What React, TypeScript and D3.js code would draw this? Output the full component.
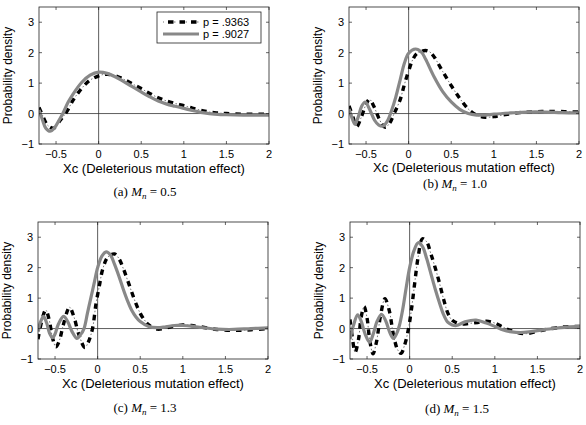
import React, { useEffect, useRef } from "react";
import * as d3 from "d3";

// curves, [x, density]
const aBlack = [
  [-0.7, 0.2], [-0.66, -0.05], [-0.6, -0.38], [-0.53, -0.48], [-0.45, -0.22], [-0.37, 0.08],
  [-0.3, 0.44], [-0.24, 0.68], [-0.17, 0.92], [-0.1, 1.1], [0.0, 1.24], [0.05, 1.28], [0.1, 1.29],
  [0.2, 1.24], [0.3, 1.12], [0.4, 0.97], [0.5, 0.82], [0.6, 0.66], [0.7, 0.52], [0.8, 0.41],
  [0.9, 0.33], [1.0, 0.26], [1.1, 0.18], [1.2, 0.11], [1.3, 0.05], [1.4, 0.02], [1.5, 0.0],
  [1.7, -0.02], [2.0, -0.02],
];
const aGray = [
  [-0.7, 0.12], [-0.66, -0.2], [-0.62, -0.48], [-0.57, -0.58], [-0.52, -0.48], [-0.47, -0.25],
  [-0.42, 0.0], [-0.36, 0.36], [-0.3, 0.64], [-0.2, 1.02], [-0.1, 1.26], [0.0, 1.36], [0.1, 1.32],
  [0.2, 1.2], [0.3, 1.04], [0.4, 0.88], [0.5, 0.71], [0.6, 0.55], [0.7, 0.41], [0.8, 0.31],
  [0.9, 0.24], [1.0, 0.17], [1.1, 0.1], [1.2, 0.04], [1.3, 0.0], [1.4, -0.03], [1.5, -0.04],
  [1.7, -0.05], [2.0, -0.05],
];
const bBlack = [
  [-0.7, 0.25], [-0.66, -0.05], [-0.61, -0.43], [-0.56, -0.15], [-0.5, 0.3], [-0.46, 0.47],
  [-0.41, 0.25], [-0.35, -0.15], [-0.3, -0.4], [-0.27, -0.45], [-0.22, -0.3], [-0.17, 0.0],
  [-0.1, 0.45], [-0.05, 0.95], [0.0, 1.4], [0.05, 1.78], [0.1, 1.98], [0.2, 2.07], [0.25, 2.02],
  [0.3, 1.86], [0.4, 1.38], [0.5, 0.92], [0.6, 0.5], [0.7, 0.15], [0.8, -0.05], [0.9, -0.12],
  [1.0, -0.1], [1.1, -0.05], [1.3, 0.03], [1.5, 0.06], [1.7, 0.07], [2.0, 0.05],
];
const bGray = [
  [-0.7, 0.15], [-0.67, -0.1], [-0.63, -0.35], [-0.59, -0.1], [-0.55, 0.25], [-0.51, 0.38],
  [-0.46, 0.15], [-0.4, -0.22], [-0.35, -0.38], [-0.3, -0.41], [-0.25, -0.25], [-0.2, 0.1],
  [-0.15, 0.55], [-0.1, 1.1], [-0.05, 1.65], [0.0, 1.98], [0.08, 2.12], [0.15, 2.02], [0.2, 1.78],
  [0.3, 1.2], [0.4, 0.72], [0.5, 0.38], [0.6, 0.14], [0.7, 0.0], [0.8, -0.05], [0.9, -0.05],
  [1.0, -0.02], [1.2, 0.02], [1.4, 0.05], [1.6, 0.05], [1.8, 0.03], [2.0, 0.02],
];
const cBlack = [
  [-0.7, -0.35], [-0.66, 0.2], [-0.61, 0.61], [-0.57, 0.3], [-0.53, -0.3], [-0.49, -0.6],
  [-0.45, -0.4], [-0.4, 0.15], [-0.33, 0.7], [-0.28, 0.4], [-0.22, -0.2], [-0.15, -0.62],
  [-0.11, -0.45], [-0.06, 0.0], [-0.02, 0.8], [0.02, 1.4], [0.06, 1.95], [0.12, 2.35], [0.2, 2.45],
  [0.25, 2.3], [0.3, 1.98], [0.35, 1.6], [0.4, 1.2], [0.45, 0.82], [0.5, 0.5], [0.55, 0.28],
  [0.6, 0.12], [0.7, -0.02], [0.8, 0.02], [0.9, 0.08], [1.0, 0.12], [1.1, 0.1], [1.2, 0.06],
  [1.4, -0.03], [1.6, -0.06], [1.8, -0.04], [2.0, 0.0],
];
const cGray = [
  [-0.7, -0.1], [-0.67, 0.22], [-0.635, 0.4], [-0.6, 0.2], [-0.565, -0.15], [-0.53, -0.3],
  [-0.5, -0.18], [-0.46, 0.15], [-0.4, 0.4], [-0.35, 0.22], [-0.3, -0.1], [-0.245, -0.32],
  [-0.2, -0.2], [-0.16, 0.0], [-0.12, 0.5], [-0.08, 1.0], [-0.04, 1.5], [0.0, 2.0], [0.05, 2.38],
  [0.1, 2.52], [0.15, 2.42], [0.2, 2.1], [0.25, 1.72], [0.3, 1.3], [0.35, 0.92], [0.4, 0.6],
  [0.45, 0.38], [0.5, 0.23], [0.6, 0.07], [0.7, 0.03], [0.8, 0.06], [0.9, 0.1], [1.0, 0.1],
  [1.1, 0.08], [1.2, 0.04], [1.4, -0.02], [1.6, -0.03], [1.8, 0.0], [2.0, 0.02],
];
const dBlack = [
  [-0.7, 0.3], [-0.67, -0.35], [-0.64, -0.78], [-0.6, -0.35], [-0.57, 0.35], [-0.535, 0.72],
  [-0.5, 0.35], [-0.47, -0.35], [-0.43, -0.83], [-0.39, -0.45], [-0.34, 0.45], [-0.29, 0.98],
  [-0.24, 0.6], [-0.19, -0.2], [-0.14, -0.7], [-0.1, -0.81], [-0.06, -0.55], [-0.02, -0.1],
  [0.02, 0.6], [0.06, 1.5], [0.1, 2.35], [0.15, 2.95], [0.2, 2.85], [0.25, 2.45], [0.3, 2.0],
  [0.35, 1.5], [0.4, 0.95], [0.45, 0.5], [0.5, 0.27], [0.6, 0.15], [0.7, 0.17], [0.8, 0.2],
  [0.9, 0.24], [1.0, 0.18], [1.1, 0.04], [1.2, -0.08], [1.35, -0.17], [1.5, -0.09], [1.6, -0.03],
  [1.8, 0.05], [2.0, 0.07],
];
const dGray = [
  [-0.7, -0.35], [-0.66, 0.1], [-0.61, 0.45], [-0.57, 0.25], [-0.52, -0.2], [-0.47, -0.45],
  [-0.43, -0.2], [-0.38, 0.25], [-0.33, 0.47], [-0.28, 0.25], [-0.23, -0.15], [-0.19, -0.32],
  [-0.15, -0.15], [-0.12, 0.1], [-0.08, 0.65], [-0.04, 1.35], [0.0, 2.0], [0.05, 2.55], [0.1, 2.82],
  [0.15, 2.7], [0.2, 2.3], [0.25, 1.8], [0.3, 1.3], [0.35, 0.85], [0.4, 0.45], [0.45, 0.2],
  [0.5, 0.12], [0.55, 0.1], [0.65, 0.22], [0.78, 0.28], [0.9, 0.18], [1.0, 0.07], [1.1, -0.05],
  [1.2, -0.11], [1.3, -0.13], [1.4, -0.11], [1.5, -0.07], [1.7, 0.01], [1.85, 0.05], [2.0, 0.07],
];

const xTicks = [-0.5, 0, 0.5, 1, 1.5, 2];
const yTicks = [-1, 0, 1, 2, 3];
const legendLabels = ["p = .9363", "p = .9027"];
const mnValues = ["0.5", "1.0", "1.3", "1.5"];
const letters = ["a", "b", "c", "d"];

const W = 230;
const H = 137;
const FONT = "'Liberation Sans', Arial, Helvetica, sans-serif";

const App = () => {
  const svgRef = useRef(null);

  useEffect(() => {
    const svg = d3.select(svgRef.current);
    svg.selectAll("*").remove();

    const x = d3.scaleLinear().domain([-0.7, 2]).range([0, W]);
    const y = d3.scaleLinear().domain([-1, 3.5]).range([H, 0]);
    const line = d3
      .line()
      .x((d) => x(d[0]))
      .y((d) => y(d[1]))
      .curve(d3.curveCatmullRom.alpha(0.5));

    const panels = [
      { left: 39, top: 7, black: aBlack, gray: aGray, xlab: 29, cap: [145, 196], legend: true },
      { left: 349, top: 7, black: bBlack, gray: bGray, xlab: 27.5, cap: [455, 188] },
      { left: 38, top: 222, black: cBlack, gray: cGray, xlab: 29, cap: [145, 412] },
      { left: 350, top: 222, black: dBlack, gray: dGray, xlab: 29, cap: [457, 413] },
    ];

    panels.forEach((p, i) => {
      const g = svg.append("g").attr("transform", `translate(${p.left},${p.top})`);

      g.append("clipPath")
        .attr("id", `clip${i}`)
        .append("rect")
        .attr("width", W)
        .attr("height", H);

      g.append("rect").attr("width", W).attr("height", H).attr("fill", "white");

      // zero lines
      g.append("line")
        .attr("x1", 0).attr("x2", W)
        .attr("y1", y(0)).attr("y2", y(0))
        .attr("stroke", "#333").attr("stroke-width", 0.8);
      g.append("line")
        .attr("x1", x(0)).attr("x2", x(0))
        .attr("y1", 0).attr("y2", H)
        .attr("stroke", "#333").attr("stroke-width", 0.8);

      const plot = g.append("g").attr("clip-path", `url(#clip${i})`);

      // dash-dot black series: thick dashes plus thin dots
      plot.append("path")
        .datum(p.black)
        .attr("d", line)
        .attr("fill", "none")
        .attr("stroke", "#000")
        .attr("stroke-width", 3.4)
        .attr("stroke-dasharray", "5.5 6")
        ;
      plot.append("path")
        .datum(p.black)
        .attr("d", line)
        .attr("fill", "none")
        .attr("stroke", "#666")
        .attr("stroke-width", 0.9)
        .attr("stroke-dasharray", "1.5 10")
        .attr("stroke-dashoffset", 3.5);

      plot.append("path")
        .datum(p.gray)
        .attr("d", line)
        .attr("fill", "none")
        .attr("stroke", "#888")
        .attr("stroke-width", 3.2)
        .attr("stroke-linejoin", "round");

      // box
      g.append("rect")
        .attr("width", W).attr("height", H)
        .attr("fill", "none").attr("stroke", "#222").attr("stroke-width", 0.8);

      // ticks inward on all sides
      xTicks.forEach((t) => {
        g.append("line").attr("x1", x(t)).attr("x2", x(t)).attr("y1", H).attr("y2", H - 3)
          .attr("stroke", "#222").attr("stroke-width", 0.7);
        g.append("line").attr("x1", x(t)).attr("x2", x(t)).attr("y1", 0).attr("y2", 3)
          .attr("stroke", "#222").attr("stroke-width", 0.7);
        g.append("text")
          .attr("x", x(t)).attr("y", H + 14)
          .attr("text-anchor", "middle")
          .attr("font-family", FONT).attr("font-size", 11)
          .text(t < 0 ? "\u2212" + Math.abs(t) : String(t));
      });
      yTicks.forEach((t) => {
        g.append("line").attr("x1", 0).attr("x2", 3).attr("y1", y(t)).attr("y2", y(t))
          .attr("stroke", "#222").attr("stroke-width", 0.7);
        g.append("line").attr("x1", W).attr("x2", W - 3).attr("y1", y(t)).attr("y2", y(t))
          .attr("stroke", "#222").attr("stroke-width", 0.7);
        g.append("text")
          .attr("x", -5).attr("y", y(t) + 4)
          .attr("text-anchor", "end")
          .attr("font-family", FONT).attr("font-size", 11)
          .text(t < 0 ? "\u2212" + Math.abs(t) : String(t));
      });

      g.append("text")
        .attr("x", W / 2).attr("y", H + p.xlab)
        .attr("text-anchor", "middle")
        .attr("font-family", FONT).attr("font-size", 13)
        .text("Xc (Deleterious mutation effect)");
      g.append("text")
        .attr("transform", `translate(${-27.5},${H / 2}) rotate(-90)`)
        .attr("text-anchor", "middle")
        .attr("font-family", FONT).attr("font-size", 12)
        .text("Probability density");

      if (p.legend) {
        const lg = g.append("g").attr("transform", "translate(118,5)");
        lg.append("rect").attr("width", 104).attr("height", 31)
          .attr("fill", "white").attr("stroke", "#222").attr("stroke-width", 0.8);
        lg.append("line").attr("x1", 8).attr("x2", 40).attr("y1", 10).attr("y2", 10)
          .attr("stroke", "#000").attr("stroke-width", 3.4).attr("stroke-dasharray", "5.5 6")
          .attr("stroke-dashoffset", -3);
        lg.append("line").attr("x1", 6).attr("x2", 42).attr("y1", 10).attr("y2", 10)
          .attr("stroke", "#666").attr("stroke-width", 0.9).attr("stroke-dasharray", "1.5 10")
          .attr("stroke-dashoffset", 0.5);
        lg.append("line").attr("x1", 6).attr("x2", 42).attr("y1", 22).attr("y2", 22)
          .attr("stroke", "#888").attr("stroke-width", 3.2);
        legendLabels.forEach((l, k) => {
          lg.append("text")
            .attr("x", 46).attr("y", 14 + k * 12)
            .attr("font-family", FONT).attr("font-size", 11)
            .text(l);
        });
      }

      // caption
      const cap = svg.append("text")
        .attr("x", p.cap[0]).attr("y", p.cap[1])
        .attr("text-anchor", "middle")
        .attr("font-family", "'Liberation Serif', 'Times New Roman', serif")
        .attr("font-size", 13);
      cap.append("tspan").text(`(${letters[i]}) `);
      cap.append("tspan").attr("font-style", "italic").text("M");
      cap.append("tspan").attr("font-style", "italic").attr("font-size", 9).attr("dy", 3).text("n");
      cap.append("tspan").attr("dy", -3).text(` = ${mnValues[i]}`);
    });

    return () => {
      svg.selectAll("*").remove();
    };
  }, []);

  return (
    <svg
      ref={svgRef}
      width={586}
      height={425}
      style={{ position: "absolute", left: 0, top: 0, background: "white" }}
    />
  );
};

export default App;
